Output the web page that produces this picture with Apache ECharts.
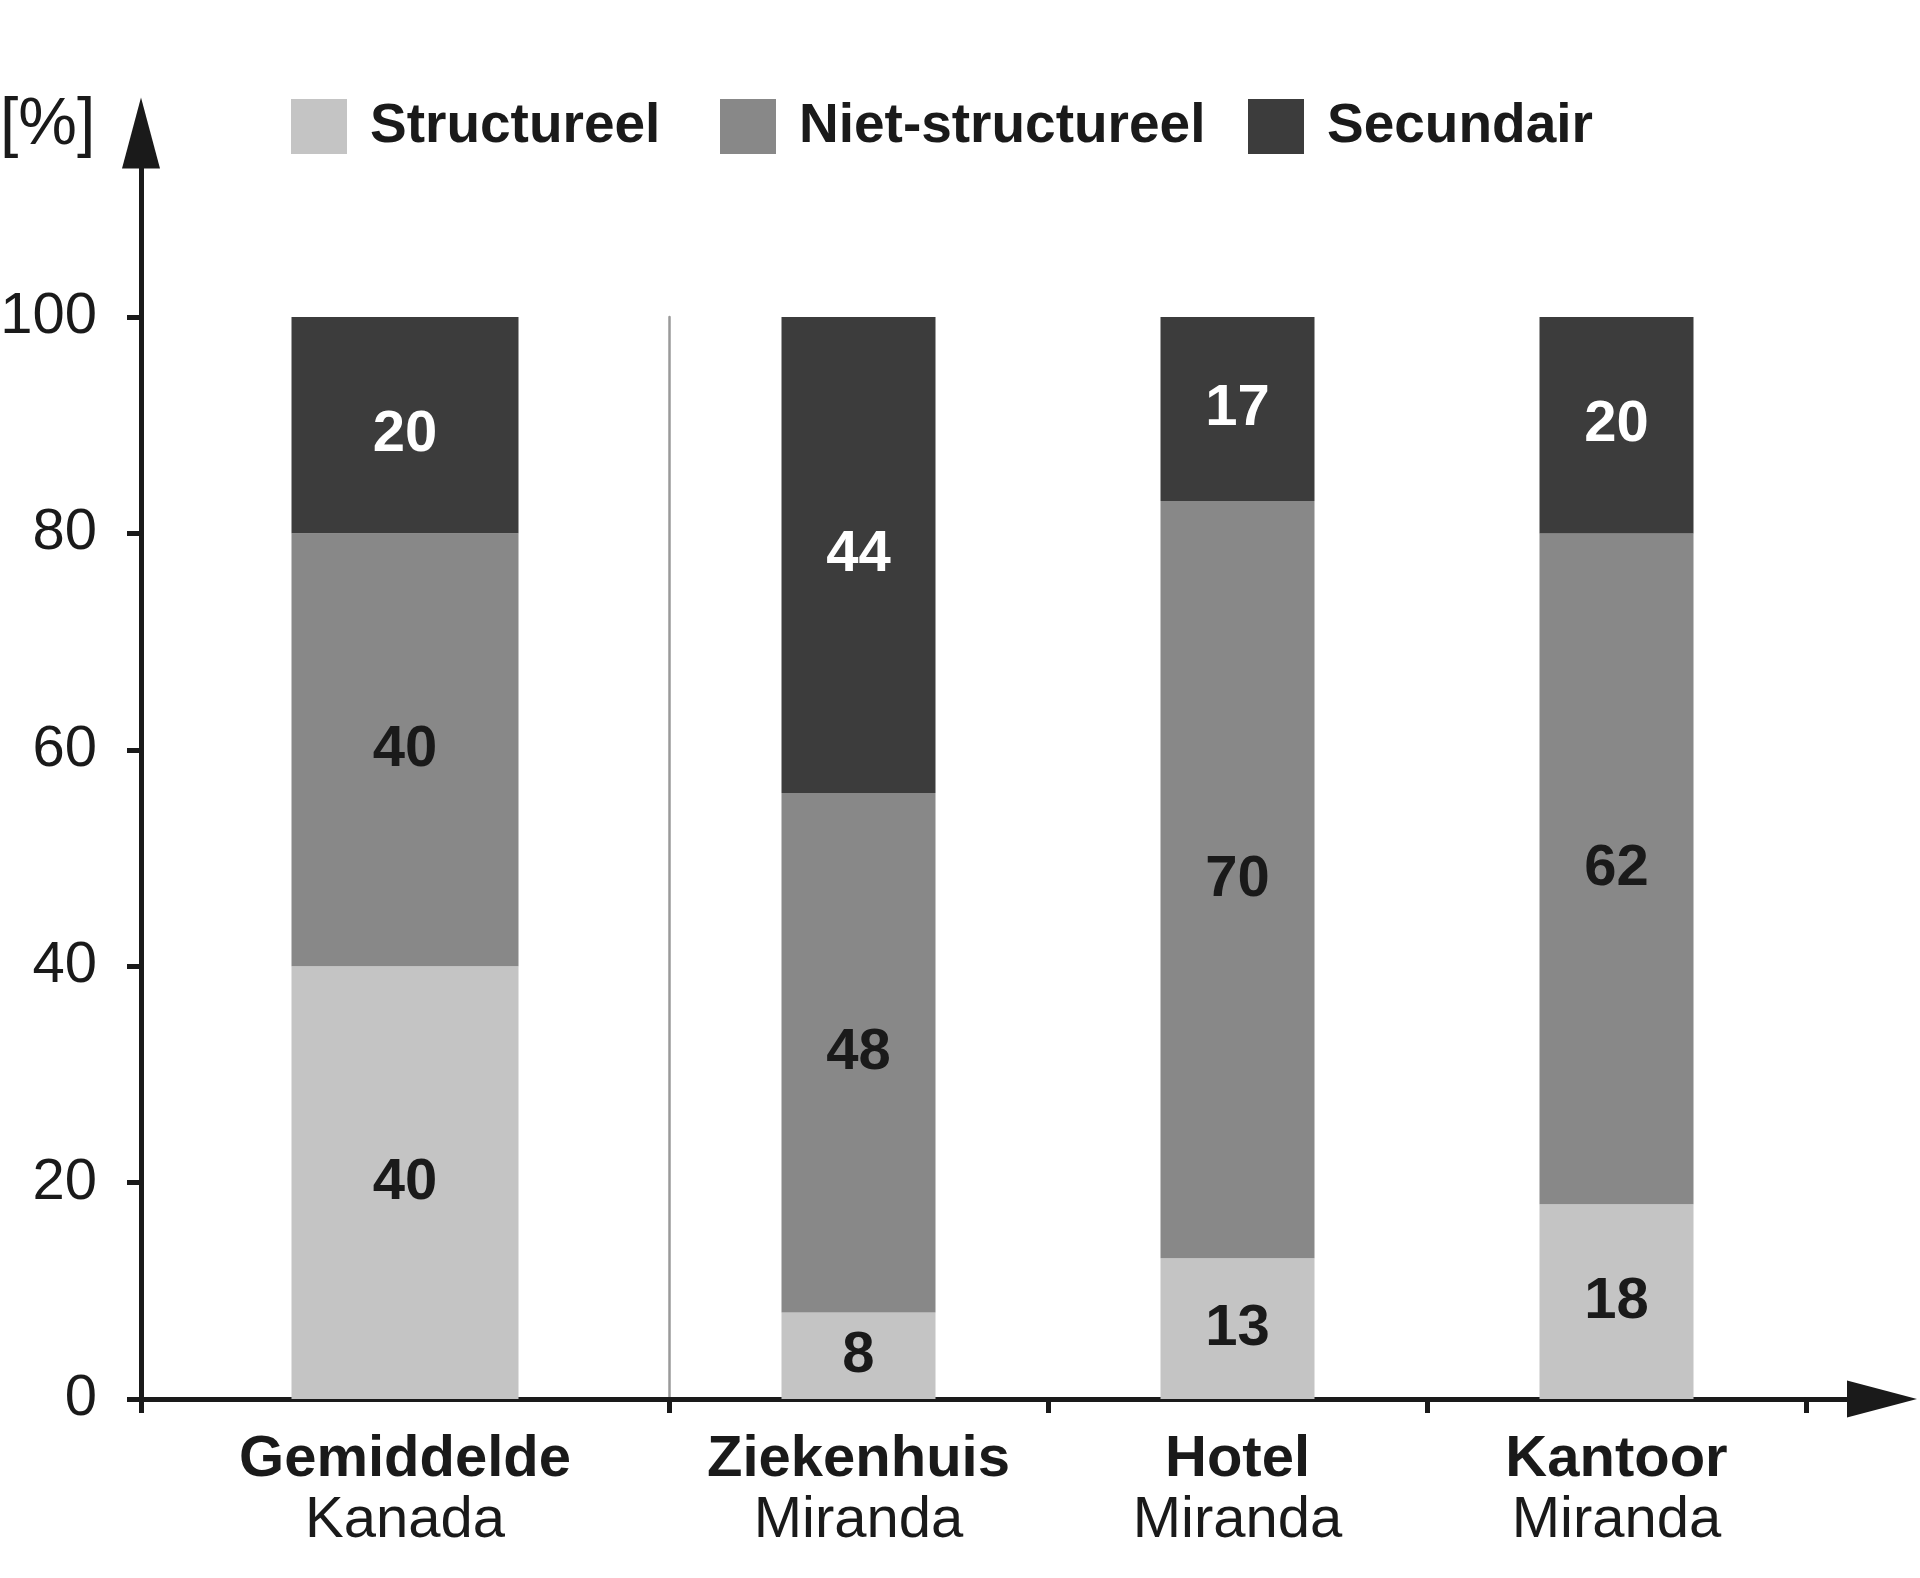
<!DOCTYPE html>
<html>
<head>
<meta charset="utf-8">
<script src="https://cdn.jsdelivr.net/npm/echarts@6/dist/echarts.min.js"></script>
<style>
html,body{margin:0;padding:0;background:#fff;}
#chart{width:1920px;height:1578px;}
</style>
</head>
<body>
<div id="chart"></div>
<script>
// ---- data ----
var categoryMain = ['Gemiddelde', 'Ziekenhuis', 'Hotel', 'Kantoor'];
var categorySub = ['Kanada', 'Miranda', 'Miranda', 'Miranda'];
var seriesNames = ['Structureel', 'Niet-structureel', 'Secundair'];
var structureel = [40, 8, 13, 18];
var nietStructureel = [40, 48, 70, 62];
var secundair = [20, 44, 17, 20];
var yTickValues = [0, 20, 40, 60, 80, 100];
var yAxisTitle = '[%]';

// ---- styles ----
var FONT = 'Liberation Sans, Arial, Helvetica, sans-serif';
var INK = '#1a1a1a';
var colors = ['#c4c4c4', '#888888', '#3c3c3c'];
var labelColors = [INK, INK, '#ffffff'];
var leftLabelOffsets = [[0, 0], [0, 0], [0, 10]];
var values = [structureel, nietStructureel, secundair];

var categories = categoryMain.map(function (m, i) { return m + '\n' + categorySub[i]; });

function xAxisCommon(gridIndex, data) {
  return {
    type: 'category',
    gridIndex: gridIndex,
    data: data,
    axisLine: { show: true, lineStyle: { color: INK, width: 5 } },
    axisTick: { show: true, length: 14, lineStyle: { color: INK, width: 5 } },
    axisLabel: {
      interval: 0,
      margin: 30,
      formatter: function (v) {
        var p = v.split('\n');
        return '{b|' + p[0] + '}\n{r|' + p[1] + '}';
      },
      rich: {
        b: { fontFamily: FONT, fontSize: 58, fontWeight: 'bold', color: INK, lineHeight: 61 },
        r: { fontFamily: FONT, fontSize: 58, fontWeight: 'normal', color: INK, lineHeight: 61 }
      }
    },
    splitLine: { show: false }
  };
}

var series = [];
seriesNames.forEach(function (name, k) {
  series.push({
    name: name,
    type: 'bar',
    stack: 'left',
    xAxisIndex: 0,
    yAxisIndex: 0,
    barWidth: 227,
    itemStyle: { color: colors[k] },
    label: {
      show: true, position: 'inside', offset: leftLabelOffsets[k],
      fontFamily: FONT, fontSize: 58, fontWeight: 'bold', color: labelColors[k]
    },
    data: values[k].slice(0, 1)
  });
});
seriesNames.forEach(function (name, k) {
  series.push({
    name: name,
    type: 'bar',
    stack: 'right',
    xAxisIndex: 1,
    yAxisIndex: 1,
    barWidth: 154,
    itemStyle: { color: colors[k] },
    label: {
      show: true, position: 'inside',
      fontFamily: FONT, fontSize: 58, fontWeight: 'bold', color: labelColors[k]
    },
    data: values[k].slice(1)
  });
});

var legendLefts = [291, 720, 1248];
var legends = seriesNames.map(function (name, k) {
  return {
    data: [name],
    left: legendLefts[k],
    top: 99,
    padding: 0,
    itemWidth: 56,
    itemHeight: 55,
    selectedMode: false,
    icon: 'rect',
    textStyle: { fontFamily: FONT, fontSize: 55, fontWeight: 'bold', color: INK, padding: [0, 0, 0, 18] }
  };
});

var option = {
  backgroundColor: '#ffffff',
  animation: false,
  title: {
    text: yAxisTitle,
    left: 0,
    top: 93,
    padding: 0,
    textStyle: { fontFamily: FONT, fontSize: 66, fontWeight: 'normal', color: INK }
  },
  legend: legends,
  grid: [
    { left: 141, width: 528, top: 133, bottom: 179, outerBoundsMode: 'none', containLabel: false },
    { left: 669, width: 1137, top: 317, bottom: 179, outerBoundsMode: 'none', containLabel: false },
    { left: 1806, width: 76, top: 317, bottom: 179, outerBoundsMode: 'none', containLabel: false }
  ],
  xAxis: [
    xAxisCommon(0, categories.slice(0, 1)),
    xAxisCommon(1, categories.slice(1)),
    {
      type: 'value', gridIndex: 2, min: 0, max: 1,
      axisLine: { show: true, symbol: ['none', 'triangle'], symbolSize: [37, 70], lineStyle: { color: INK, width: 5 } },
      axisTick: { show: false }, axisLabel: { show: false }, splitLine: { show: false }
    }
  ],
  yAxis: [
    {
      type: 'value', gridIndex: 0, min: 0, max: 117,
      axisLine: { show: true, symbol: ['none', 'triangle'], symbolSize: [38, 71], lineStyle: { color: INK, width: 5 } },
      axisTick: { show: true, length: 14, customValues: yTickValues, lineStyle: { color: INK, width: 5 } },
      axisLabel: {
        customValues: yTickValues,
        margin: 44,
        fontFamily: FONT, fontSize: 58, color: INK
      },
      splitLine: { show: false }
    },
    {
      type: 'value', gridIndex: 1, min: 0, max: 100,
      axisLine: { show: true, lineStyle: { color: '#9a9a9a', width: 2.5 } },
      axisTick: { show: false }, axisLabel: { show: false }, splitLine: { show: false }
    },
    {
      type: 'value', gridIndex: 2, min: 0, max: 100, show: false
    }
  ],
  series: series
};

var chart = echarts.init(document.getElementById('chart'), null, { renderer: 'canvas' });
chart.setOption(option);
</script>
</body>
</html>
